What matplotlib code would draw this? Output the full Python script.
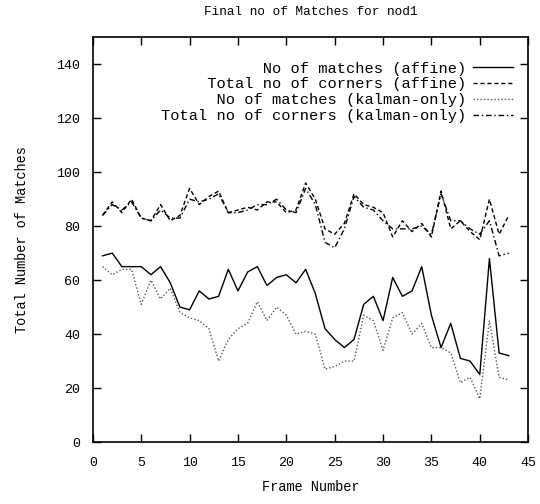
import matplotlib
matplotlib.use("Agg")
import matplotlib.pyplot as plt

frames = list(range(1, 44))

matches_affine = [69, 70, 65, 65, 65, 62, 65, 59, 50, 49,
                  56, 53, 54, 64, 56, 63, 65, 58, 61, 62,
                  59, 64, 55, 42, 38, 35, 38, 51, 54, 45,
                  61, 54, 56, 65, 47, 35, 44, 31, 30, 25,
                  68, 33, 32]
corners_affine = [84, 89, 85, 90, 83, 82, 88, 82, 84, 94,
                  88, 91, 93, 85, 86, 87, 86, 89, 89, 85,
                  86, 96, 90, 79, 77, 81, 92, 88, 87, 85,
                  76, 82, 78, 81, 76, 93, 79, 82, 78, 75,
                  90, 77, 84]
matches_kalman = [65, 62, 64, 64, 51, 60, 53, 57, 48, 46,
                  45, 42, 30, 38, 42, 44, 52, 45, 50, 47,
                  40, 41, 40, 27, 28, 30, 30, 47, 45, 34,
                  46, 48, 40, 44, 35, 35, 33, 22, 24, 16,
                  45, 24, 23]
corners_kalman = [84, 88, 86, 89, 83, 82, 86, 83, 83, 90,
                  89, 90, 92, 85, 85, 86, 88, 88, 90, 86,
                  85, 94, 88, 74, 72, 79, 91, 87, 86, 82,
                  79, 79, 79, 80, 77, 92, 82, 82, 79, 77,
                  82, 69, 70]

labels = ["No of matches (affine)",
          "Total no of corners (affine)",
          "No of matches (kalman-only)",
          "Total no of corners (kalman-only)"]
# monospace font, so padding on the left gives right aligned labels
width = max(len(l) for l in labels)
labels = [l.rjust(width) for l in labels]

mono = "Liberation Mono"

fig = plt.figure(figsize=(5.4, 5.04), dpi=100)
ax = fig.add_axes([0.172, 0.123, 0.806, 0.803])

ax.plot(frames, matches_affine, color="black", lw=1.0, ls="-", label=labels[0])
ax.plot(frames, corners_affine, color="black", lw=1.0, ls=(0, (3, 2)),
        label=labels[1])
ax.plot(frames, matches_kalman, color="#555555", lw=1.0, ls=(0, (1, 1.5)),
        label=labels[2])
ax.plot(frames, corners_kalman, color="black", lw=1.0, ls=(0, (4, 2, 1, 2)),
        label=labels[3])

ax.set_xlim(0, 45)
ax.set_ylim(0, 150)
ax.set_xticks(range(0, 46, 5))
ax.set_yticks(range(0, 141, 20))
ax.tick_params(direction="in", top=True, right=True, length=6, width=1,
               labelsize=9.6)
ax.tick_params(axis="x", pad=11)
ax.tick_params(axis="y", pad=9)
for lab in ax.get_xticklabels() + ax.get_yticklabels():
    lab.set_family(mono)
for s in ax.spines.values():
    s.set_linewidth(1.2)

ax.set_title("Final no of Matches for nod1", family=mono, fontsize=9.2, pad=16)
ax.set_xlabel("Frame Number", family=mono, fontsize=9.8, labelpad=8)
ax.set_ylabel("Total Number of Matches", family=mono, fontsize=9.8, labelpad=20)

ax.legend(loc="upper right", bbox_to_anchor=(1.0, 0.978), frameon=False,
          markerfirst=False, prop={"family": mono, "size": 11.1},
          handlelength=2.6, labelspacing=0.12, borderaxespad=0.6,
          handletextpad=0.4)

fig.savefig("out.png", dpi=100)
